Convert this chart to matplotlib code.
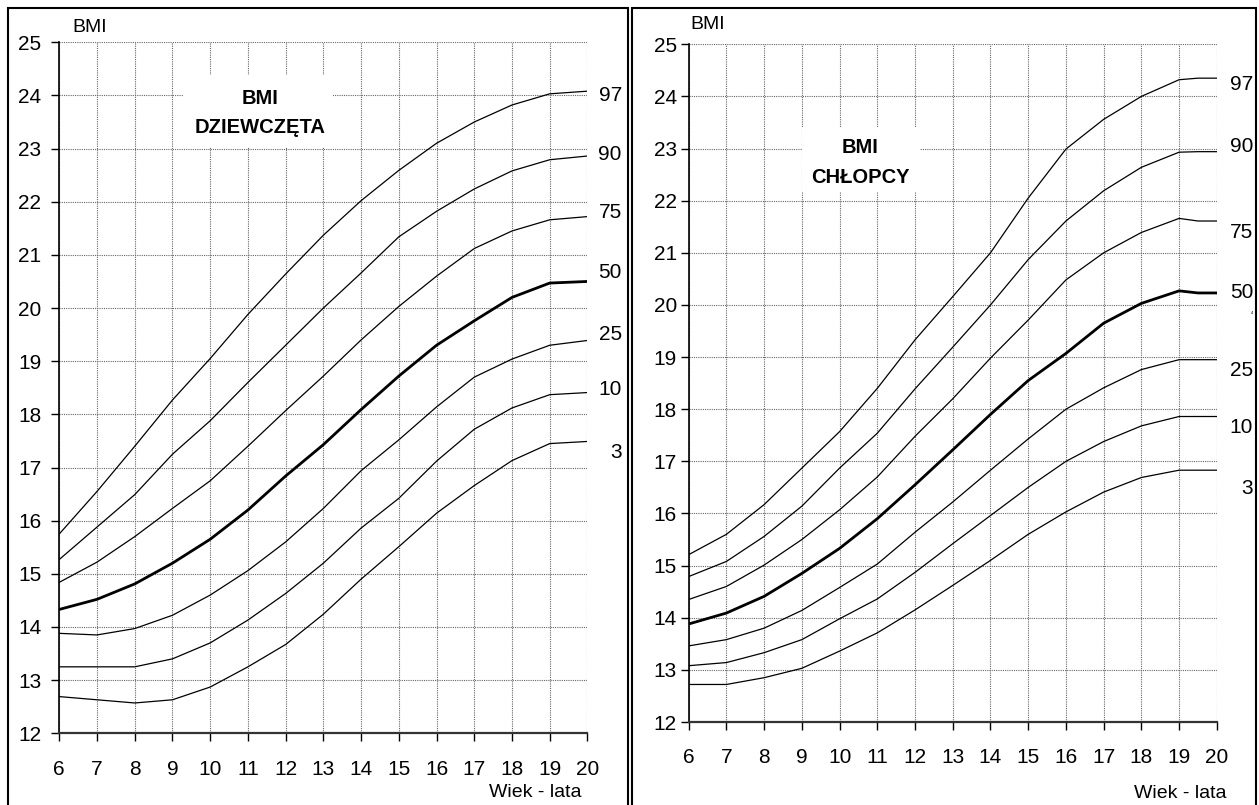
import matplotlib.pyplot as plt
from matplotlib.patches import Rectangle

plt.rcParams['font.family'] = ['Liberation Sans', 'DejaVu Sans']

# wiek (lata)
ages_g = list(range(6, 21))
ages_b = list(range(6, 20)) + [19.5, 20]

# centyle BMI - dziewczęta
g_p3 = [12.69, 12.63, 12.57, 12.63, 12.87, 13.25, 13.67, 14.24, 14.90, 15.51, 16.14, 16.66, 17.13, 17.45, 17.49]
g_p10 = [13.25, 13.25, 13.25, 13.40, 13.70, 14.13, 14.63, 15.20, 15.86, 16.42, 17.12, 17.72, 18.12, 18.37, 18.41]
g_p25 = [13.88, 13.85, 13.97, 14.22, 14.60, 15.06, 15.60, 16.23, 16.94, 17.52, 18.14, 18.70, 19.04, 19.30, 19.39]
g_p50 = [14.33, 14.52, 14.81, 15.20, 15.65, 16.20, 16.84, 17.43, 18.09, 18.72, 19.30, 19.76, 20.20, 20.47, 20.50]
g_p75 = [14.84, 15.22, 15.70, 16.23, 16.75, 17.40, 18.07, 18.72, 19.40, 20.03, 20.60, 21.12, 21.45, 21.66, 21.72]
g_p90 = [15.27, 15.88, 16.49, 17.25, 17.88, 18.60, 19.30, 20.00, 20.66, 21.34, 21.82, 22.24, 22.58, 22.79, 22.86]
g_p97 = [15.75, 16.55, 17.40, 18.27, 19.05, 19.88, 20.64, 21.37, 22.02, 22.59, 23.10, 23.50, 23.82, 24.03, 24.08]

# centyle BMI - chłopcy
b_p3 = [12.72, 12.72, 12.85, 13.03, 13.36, 13.71, 14.15, 14.62, 15.10, 15.60, 16.03, 16.41, 16.69, 16.83, 16.83, 16.83]
b_p10 = [13.08, 13.14, 13.33, 13.58, 13.98, 14.36, 14.87, 15.42, 15.96, 16.50, 17.00, 17.38, 17.68, 17.86, 17.86, 17.86]
b_p25 = [13.46, 13.58, 13.80, 14.14, 14.58, 15.03, 15.64, 16.22, 16.83, 17.43, 18.00, 18.41, 18.76, 18.95, 18.95, 18.95]
b_p50 = [13.88, 14.09, 14.41, 14.85, 15.33, 15.90, 16.55, 17.22, 17.90, 18.55, 19.07, 19.65, 20.03, 20.27, 20.23, 20.23]
b_p75 = [14.35, 14.60, 15.01, 15.50, 16.07, 16.70, 17.48, 18.20, 18.98, 19.71, 20.48, 21.00, 21.39, 21.66, 21.61, 21.61]
b_p90 = [14.79, 15.08, 15.56, 16.14, 16.87, 17.54, 18.39, 19.19, 20.00, 20.87, 21.61, 22.19, 22.64, 22.93, 22.94, 22.94]
b_p97 = [15.21, 15.60, 16.17, 16.87, 17.57, 18.40, 19.33, 20.16, 21.00, 22.05, 22.99, 23.56, 24.00, 24.32, 24.35, 24.35]

centyle = ["3", "10", "25", "50", "75", "90", "97"]

FS = 15

fig = plt.figure(figsize=(12.59, 8.05), dpi=100)

# ramki obu wykresów
fig.add_artist(Rectangle((0.0064, -0.02), 0.4925, 1.01, transform=fig.transFigure,
                         fill=False, edgecolor='black', linewidth=1.5))
fig.add_artist(Rectangle((0.5020, -0.02), 0.4960, 1.01, transform=fig.transFigure,
                         fill=False, edgecolor='black', linewidth=1.5))

ax_g = fig.add_axes([0.0471, 0.0891, 0.4195, 0.8584])
ax_b = fig.add_axes([0.5470, 0.1031, 0.4195, 0.8419])


def setup(ax, ypad):
    ax.set_xlim(6, 20)
    ax.set_ylim(12, 25)
    ax.set_xticks(range(6, 21))
    ax.set_yticks(range(12, 26))
    ax.set_axisbelow(True)
    ax.grid(True, color='#666666', linestyle=(0, (1, 1)), linewidth=0.8)
    for s in ['top', 'right']:
        ax.spines[s].set_visible(False)
    ax.spines['left'].set_color('black')
    ax.spines['left'].set_linewidth(1.2)
    ax.spines['bottom'].set_color('#333333')
    ax.spines['bottom'].set_linewidth(1.6)
    ax.tick_params(axis='x', direction='out', length=6, width=1, labelsize=FS, pad=13)
    ax.tick_params(axis='y', direction='out', length=6, width=1, labelsize=FS, pad=ypad)


setup(ax_g, 7)
setup(ax_b, 2.5)

for ax, ages, series in [(ax_g, ages_g, [g_p3, g_p10, g_p25, g_p50, g_p75, g_p90, g_p97]),
                         (ax_b, ages_b, [b_p3, b_p10, b_p25, b_p50, b_p75, b_p90, b_p97])]:
    for c, vals in zip(centyle, series):
        ax.plot(ages, vals, color='black', linewidth=2.0 if c == "50" else 0.9,
                solid_joinstyle='round', zorder=2)

# etykiety centyli
g_lab_y = [17.29, 18.46, 19.50, 20.66, 21.79, 22.88, 24.00]
b_lab_y = [16.47, 17.64, 18.75, 20.23, 21.38, 23.03, 24.22]
for c, y in zip(centyle, g_lab_y):
    ax_g.text(20.91, y, c, ha='right', va='center', fontsize=FS, clip_on=False)
for c, y in zip(centyle, b_lab_y):
    ax_b.text(20.96, y, c, ha='right', va='center', fontsize=FS, clip_on=False)
ax_b.text(20.96, 19.85, "4", ha='right', va='center', fontsize=3, clip_on=False)

# tytuły w białych polach
ax_g.add_patch(Rectangle((0.234, 0.8485), 0.284, 0.1045, transform=ax_g.transAxes,
                         facecolor='white', edgecolor='none', zorder=1.5))
ax_g.text(0.380, 0.919, "BMI", transform=ax_g.transAxes, ha='center', va='center',
          fontsize=14.5, fontweight='bold', zorder=3)
ax_g.text(0.380, 0.876, "DZIEWCZĘTA", transform=ax_g.transAxes, ha='center', va='center',
          fontsize=14.5, fontweight='bold', zorder=3)

ax_b.add_patch(Rectangle((0.2145, 0.782), 0.2235, 0.096, transform=ax_b.transAxes,
                         facecolor='white', edgecolor='none', zorder=1.5))
ax_b.text(0.3243, 0.847, "BMI", transform=ax_b.transAxes, ha='center', va='center',
          fontsize=14.5, fontweight='bold', zorder=3)
ax_b.text(0.3243, 0.803, "CHŁOPCY", transform=ax_b.transAxes, ha='center', va='center',
          fontsize=14.5, fontweight='bold', zorder=3)

# opisy osi
ax_g.text(0.024, 1.022, "BMI", transform=ax_g.transAxes, ha='left', va='center', fontsize=14)
ax_b.text(0.0025, 1.0285, "BMI", transform=ax_b.transAxes, ha='left', va='center', fontsize=14)
ax_g.text(0.9006, -0.085, "Wiek - lata", transform=ax_g.transAxes, ha='center', va='center', fontsize=14)
ax_b.text(0.930, -0.105, "Wiek - lata", transform=ax_b.transAxes, ha='center', va='center', fontsize=14)

fig.savefig("out.png", dpi=100)
